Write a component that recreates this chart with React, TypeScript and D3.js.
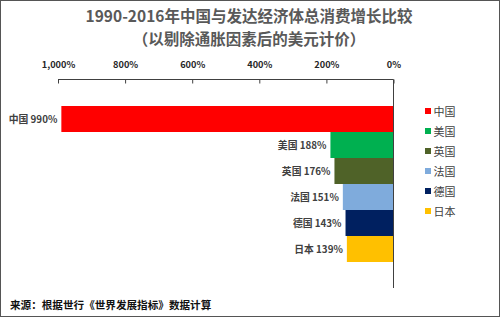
import * as d3 from 'd3';
import { useEffect, useRef } from 'react';

const countries = ['中国', '美国', '英国', '法国', '德国', '日本'];
const growth = [990, 188, 176, 151, 143, 139];
const colors = ['#ff0000', '#00b050', '#4f6228', '#7fabdc', '#002060', '#ffc000'];
const ticks = [1000, 800, 600, 400, 200, 0];
const titleLines = ['1990-2016年中国与发达经济体总消费增长比较', '（以剔除通胀因素后的美元计价）'];
const source = '来源：根据世行《世界发展指标》数据计算';

function App() {
    const ref = useRef<SVGSVGElement>(null);

    useEffect(() => {
        const width = 500, height = 317;
        const svg = d3.select(ref.current);
        svg.selectAll('*').remove();
        const font = '"Noto Sans CJK SC", "Noto Sans", sans-serif';

        svg.append('rect')
            .attr('x', 0.5).attr('y', 0.5)
            .attr('width', width - 1).attr('height', height - 1)
            .attr('fill', '#fff')
            .attr('stroke', '#555');

        // title
        svg.append('g').selectAll('text')
            .data(titleLines)
            .join('text')
            .attr('x', 249)
            .attr('y', (_, i) => 22 + i * 23)
            .attr('text-anchor', 'middle')
            .attr('font-family', font)
            .attr('font-weight', 'bold')
            .attr('font-size', 15.5)
            .attr('fill', '#595959')
            .text(d => d);

        const x = d3.scaleLinear().domain([0, 1000]).range([393.5, 58]);
        const y = d3.scaleBand().domain(countries).range([106, 262]).padding(0);

        // top axis
        const axis = d3.axisTop(x)
            .tickValues(ticks)
            .tickSize(-4)
            .tickFormat(d => d3.format(',')(d as number) + '%');
        const gAxis = svg.append('g')
            .attr('transform', 'translate(0, 79.5)')
            .call(axis);
        gAxis.select('.domain').attr('stroke', '#404040').attr('d', `M${x(1000)},0H${x(0)}`);
        gAxis.selectAll('.tick line').attr('stroke', '#404040').attr('y2', 4);
        gAxis.selectAll('.tick text')
            .attr('y', -12)
            .attr('font-family', font)
            .attr('font-weight', 'bold')
            .attr('font-size', 9.2)
            .attr('fill', '#262626');

        // bars
        svg.append('g').selectAll('rect')
            .data(growth)
            .join('rect')
            .attr('x', d => x(d))
            .attr('y', (_, i) => y(countries[i]) as number)
            .attr('width', d => x(0) - x(d))
            .attr('height', y.bandwidth())
            .attr('fill', (_, i) => colors[i]);

        // zero line
        svg.append('line')
            .attr('x1', x(0)).attr('x2', x(0))
            .attr('y1', 79.5).attr('y2', 288)
            .attr('stroke', '#404040');

        // labels
        svg.append('g').selectAll('text')
            .data(growth)
            .join('text')
            .attr('x', d => x(d) - 4)
            .attr('y', (_, i) => (y(countries[i]) as number) + y.bandwidth() / 2 + 3.5)
            .attr('text-anchor', 'end')
            .attr('font-family', font)
            .attr('font-weight', 'bold')
            .attr('font-size', 9.8)
            .attr('fill', '#404040')
            .text((d, i) => `${countries[i]} ${d}%`);

        // legend
        const lg = svg.append('g').selectAll('g')
            .data(countries)
            .join('g')
            .attr('transform', (_, i) => `translate(425, ${111 + i * 20})`);
        lg.append('rect')
            .attr('x', 0).attr('y', -3)
            .attr('width', 6).attr('height', 6)
            .attr('fill', (_, i) => colors[i]);
        lg.append('text')
            .attr('x', 8.5).attr('y', 4.5)
            .attr('font-family', font)
            .attr('font-size', 11)
            .attr('fill', '#404040')
            .text(d => d);

        // source
        svg.append('text')
            .attr('x', 10).attr('y', 309)
            .attr('font-family', font)
            .attr('font-weight', 'bold')
            .attr('font-size', 10.6)
            .attr('fill', '#111')
            .text(source);
    }, []);

    return (
        <div style={{ position: 'absolute', left: 0, top: 0 }}>
            <svg ref={ref} width={500} height={317} style={{ display: 'block' }} />
        </div>
    );
}

export default App;
